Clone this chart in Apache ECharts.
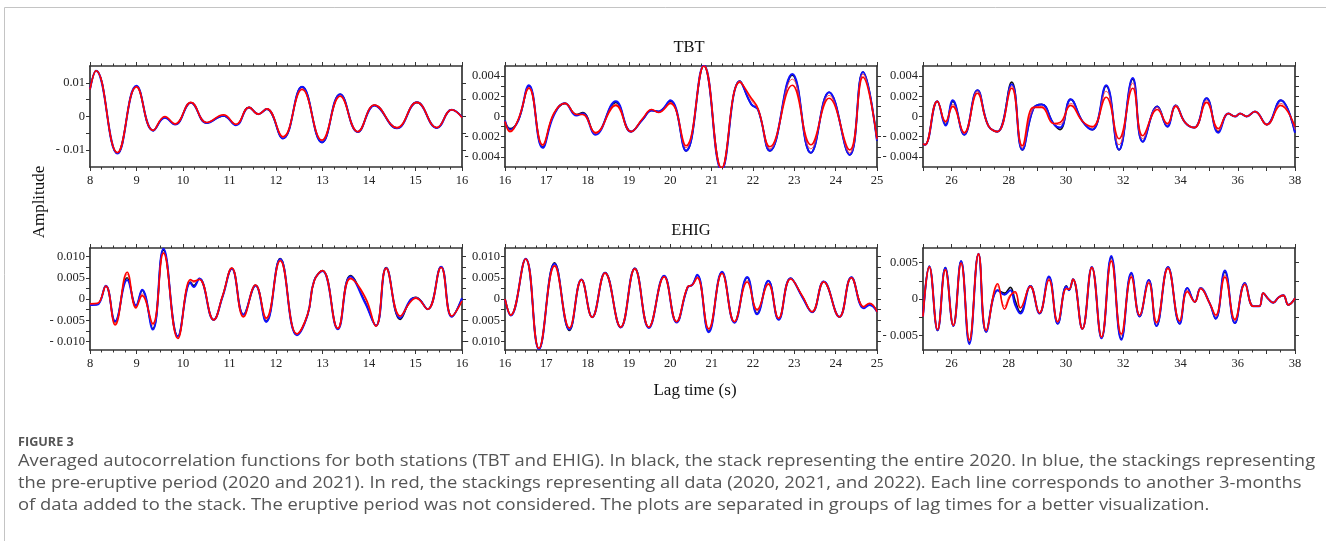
<!DOCTYPE html>
<html><head><meta charset="utf-8">
<script src="https://cdn.jsdelivr.net/npm/echarts@6/dist/echarts.min.js"></script>
<style>html,body{margin:0;padding:0;background:#fff}#c{width:1326px;height:541px}</style>
</head><body><div id="c"></div>
<script>
// ---------- DATA ----------
// TBT, lag 8-16 s
const tbtALag = [8.0, 8.13, 8.59, 9.0, 9.36, 9.61, 9.83, 10.17, 10.51, 10.87, 11.14, 11.42, 11.62, 11.80, 12.15, 12.56, 12.99, 13.38, 13.76, 14.12, 14.60, 15.03, 15.46, 15.78, 16.0];
const tbtABlack = [0.0081, 0.0136, -0.0109, 0.0090, -0.0042, -0.0003, -0.0023, 0.0041, -0.0019, 0.0002, -0.0025, 0.0027, 0.0007, 0.0022, -0.0065, 0.0088, -0.0077, 0.0066, -0.0046, 0.0033, -0.0035, 0.0042, -0.0034, 0.0020, -0.0002];
const tbtABlue = [0.0081, 0.0136, -0.0110, 0.0091, -0.0042, -0.0004, -0.0024, 0.0041, -0.0019, 0.0002, -0.0026, 0.0027, 0.0007, 0.0022, -0.0065, 0.0088, -0.0077, 0.0066, -0.0046, 0.0033, -0.0035, 0.0042, -0.0034, 0.0020, -0.0002];
const tbtARed1 = [0.0081, 0.0136, -0.0108, 0.0089, -0.0041, -0.0001, -0.0022, 0.0042, -0.0018, 0.0004, -0.0024, 0.0027, 0.0007, 0.0023, -0.0062, 0.0083, -0.0072, 0.0062, -0.0045, 0.0034, -0.0034, 0.0042, -0.0033, 0.0020, -0.0003];
const tbtARed2 = [0.0081, 0.0136, -0.0107, 0.0088, -0.0041, 0.0000, -0.0022, 0.0042, -0.0018, 0.0005, -0.0023, 0.0027, 0.0007, 0.0023, -0.0060, 0.0080, -0.0070, 0.0060, -0.0045, 0.0034, -0.0033, 0.0042, -0.0033, 0.0020, -0.0003];

// TBT, lag 16-25 s
const tbtBLag = [16.0, 16.12, 16.32, 16.58, 16.91, 17.18, 17.45, 17.73, 17.88, 18.19, 18.68, 19.05, 19.33, 19.55, 19.71, 20.0, 20.38, 20.81, 21.24, 21.68, 21.96, 22.12, 22.41, 22.95, 23.40, 23.84, 24.34, 24.66, 25.0];
const tbtBBlack = [-0.0005, -0.0012, -0.0004, 0.0030, -0.0030, 0.0002, 0.0013, 0.0002, 0.0004, -0.0017, 0.0014, -0.0015, -0.0003, 0.0006, 0.0005, 0.0015, -0.0034, 0.0050, -0.0052, 0.0035, 0.0012, 0.0007, -0.0034, 0.0041, -0.0036, 0.0024, -0.0038, 0.0044, -0.0024];
const tbtBBlue = [-0.0004, -0.0013, -0.0004, 0.0031, -0.0031, 0.0001, 0.0013, 0.0001, 0.0003, -0.0018, 0.0015, -0.0015, -0.0003, 0.0006, 0.0005, 0.0016, -0.0034, 0.0051, -0.0053, 0.0035, 0.0012, 0.0007, -0.0034, 0.0042, -0.0036, 0.0024, -0.0038, 0.0044, -0.0024];
const tbtBRed1 = [-0.0005, -0.0014, -0.0003, 0.0029, -0.0029, 0.0002, 0.0013, 0.0002, 0.0002, -0.0017, 0.0012, -0.0015, -0.0002, 0.0007, 0.0004, 0.0014, -0.0031, 0.0051, -0.0052, 0.0035, 0.0016, 0.0007, -0.0032, 0.0037, -0.0032, 0.0021, -0.0036, 0.0042, -0.0023];
const tbtBRed2 = [-0.0005, -0.0015, -0.0003, 0.0028, -0.0028, 0.0003, 0.0013, 0.0002, 0.0002, -0.0016, 0.0011, -0.0015, -0.0002, 0.0007, 0.0004, 0.0013, -0.0029, 0.0050, -0.0051, 0.0034, 0.0018, 0.0008, -0.0030, 0.0031, -0.0028, 0.0018, -0.0033, 0.0039, -0.0022];

// TBT, lag 25-38 s
const tbtCLag = [25.0, 25.07, 25.50, 25.79, 26.04, 26.44, 26.90, 27.28, 27.60, 28.10, 28.47, 28.86, 29.15, 29.56, 29.79, 30.16, 30.58, 30.92, 31.40, 31.85, 32.33, 32.68, 33.19, 33.54, 33.83, 34.16, 34.48, 34.91, 35.32, 35.67, 35.91, 36.08, 36.31, 36.60, 37.01, 37.50, 38.0];
const tbtCBlack = [-0.0027, -0.0028, 0.0015, -0.0008, 0.0015, -0.0018, 0.0026, -0.0009, -0.0015, 0.0034, -0.0033, 0.0008, 0.0012, -0.0007, -0.0013, 0.0017, -0.0005, -0.0013, 0.0030, -0.0033, 0.0037, -0.0025, 0.0010, -0.0010, 0.0011, -0.0006, -0.0011, 0.0018, -0.0015, 0.0003, 0.0000, 0.0003, 0.0000, 0.0005, -0.0008, 0.0016, -0.0016];
const tbtCBlue = [-0.0027, -0.0028, 0.0015, -0.0009, 0.0016, -0.0018, 0.0026, -0.0009, -0.0015, 0.0032, -0.0033, 0.0008, 0.0012, -0.0007, -0.0011, 0.0017, -0.0005, -0.0013, 0.0031, -0.0033, 0.0038, -0.0025, 0.0010, -0.0010, 0.0011, -0.0006, -0.0011, 0.0018, -0.0016, 0.0003, 0.0000, 0.0003, 0.0000, 0.0005, -0.0008, 0.0016, -0.0016];
const tbtCRed1 = [-0.0027, -0.0028, 0.0015, -0.0006, 0.0012, -0.0017, 0.0025, -0.0009, -0.0015, 0.0030, -0.0031, 0.0008, 0.0010, -0.0007, -0.0008, 0.0013, -0.0005, -0.0011, 0.0025, -0.0028, 0.0033, -0.0022, 0.0009, -0.0008, 0.0011, -0.0006, -0.0011, 0.0016, -0.0014, 0.0003, 0.0000, 0.0003, 0.0000, 0.0005, -0.0008, 0.0013, -0.0013];
const tbtCRed2 = [-0.0027, -0.0028, 0.0015, -0.0005, 0.0010, -0.0016, 0.0023, -0.0009, -0.0015, 0.0028, -0.0029, 0.0009, 0.0009, -0.0007, -0.0006, 0.0011, -0.0005, -0.0010, 0.0019, -0.0022, 0.0028, -0.0019, 0.0007, -0.0007, 0.0010, -0.0006, -0.0011, 0.0014, -0.0012, 0.0003, 0.0000, 0.0003, 0.0000, 0.0005, -0.0008, 0.0011, -0.0010];

// EHIG, lag 8-16 s
const ehigALag = [8.0, 8.16, 8.34, 8.54, 8.80, 8.99, 9.12, 9.35, 9.58, 9.89, 10.16, 10.23, 10.35, 10.66, 10.85, 11.05, 11.30, 11.56, 11.79, 12.09, 12.45, 12.68, 12.82, 13.0, 13.33, 13.60, 13.92, 14.15, 14.37, 14.67, 14.89, 15.01, 15.26, 15.55, 15.78, 16.0];
const ehigABlack = [-0.0013, -0.0012, 0.0031, -0.0054, 0.0050, -0.0017, 0.0020, -0.0070, 0.0115, -0.0088, 0.0040, 0.0032, 0.0048, -0.0049, 0.0006, 0.0072, -0.0037, 0.0032, -0.0052, 0.0095, -0.0084, -0.0037, 0.0043, 0.0067, -0.0070, 0.0055, -0.0008, -0.0063, 0.0074, -0.0048, -0.0003, 0.0004, -0.0024, 0.0076, -0.0041, 0.0001];
const ehigABlue = [-0.0014, -0.0013, 0.0031, -0.0052, 0.0045, -0.0015, 0.0022, -0.0072, 0.0118, -0.0088, 0.0038, 0.0028, 0.0048, -0.0049, 0.0005, 0.0071, -0.0037, 0.0032, -0.0054, 0.0094, -0.0085, -0.0037, 0.0043, 0.0066, -0.0071, 0.0053, -0.0010, -0.0063, 0.0073, -0.0045, -0.0002, 0.0003, -0.0024, 0.0076, -0.0042, 0.0002];
const ehigARed1 = [-0.0012, -0.0011, 0.0031, -0.0058, 0.0058, -0.0019, 0.0012, -0.0062, 0.0110, -0.0091, 0.0044, 0.0039, 0.0047, -0.0049, 0.0006, 0.0073, -0.0040, 0.0033, -0.0048, 0.0092, -0.0083, -0.0036, 0.0043, 0.0067, -0.0070, 0.0050, 0.0000, -0.0063, 0.0073, -0.0042, -0.0006, 0.0003, -0.0024, 0.0075, -0.0040, -0.0004];
const ehigARed2 = [-0.0011, -0.0010, 0.0030, -0.0061, 0.0063, -0.0021, 0.0008, -0.0058, 0.0108, -0.0093, 0.0046, 0.0042, 0.0046, -0.0049, 0.0007, 0.0073, -0.0042, 0.0033, -0.0045, 0.0090, -0.0082, -0.0036, 0.0042, 0.0067, -0.0069, 0.0048, 0.0004, -0.0064, 0.0072, -0.0040, -0.0007, 0.0002, -0.0024, 0.0074, -0.0040, -0.0005];

// EHIG, lag 16-25 s
const ehigBLag = [16.0, 16.14, 16.50, 16.82, 17.20, 17.56, 17.85, 18.11, 18.42, 18.80, 19.14, 19.48, 19.85, 20.15, 20.42, 20.53, 20.65, 20.93, 21.25, 21.55, 21.86, 22.10, 22.37, 22.62, 22.91, 23.19, 23.43, 23.71, 24.09, 24.38, 24.68, 24.82, 25.0];
const ehigBBlack = [0.0000, -0.0038, 0.0094, -0.0118, 0.0085, -0.0074, 0.0046, -0.0043, 0.0062, -0.0067, 0.0072, -0.0067, 0.0054, -0.0054, 0.0028, 0.0033, 0.0056, -0.0076, 0.0063, -0.0055, 0.0050, -0.0034, 0.0043, -0.0048, 0.0049, 0.0006, -0.0031, 0.0041, -0.0042, 0.0051, -0.0020, -0.0012, -0.0030];
const ehigBBlue = [0.0000, -0.0039, 0.0095, -0.0118, 0.0083, -0.0072, 0.0046, -0.0043, 0.0062, -0.0067, 0.0072, -0.0068, 0.0055, -0.0055, 0.0028, 0.0033, 0.0057, -0.0078, 0.0064, -0.0056, 0.0052, -0.0036, 0.0043, -0.0049, 0.0049, 0.0005, -0.0031, 0.0041, -0.0042, 0.0051, -0.0022, -0.0014, -0.0030];
const ehigBRed1 = [0.0000, -0.0038, 0.0094, -0.0117, 0.0080, -0.0069, 0.0046, -0.0043, 0.0061, -0.0066, 0.0071, -0.0066, 0.0053, -0.0054, 0.0028, 0.0033, 0.0052, -0.0072, 0.0061, -0.0054, 0.0043, -0.0028, 0.0037, -0.0046, 0.0048, 0.0007, -0.0030, 0.0041, -0.0042, 0.0050, -0.0019, -0.0011, -0.0030];
const ehigBRed2 = [0.0000, -0.0038, 0.0094, -0.0116, 0.0078, -0.0068, 0.0045, -0.0043, 0.0061, -0.0066, 0.0071, -0.0066, 0.0052, -0.0053, 0.0029, 0.0033, 0.0050, -0.0070, 0.0060, -0.0053, 0.0040, -0.0025, 0.0035, -0.0045, 0.0047, 0.0008, -0.0030, 0.0040, -0.0042, 0.0050, -0.0018, -0.0010, -0.0030];

// EHIG, lag 25-38 s
const ehigCLag = [25.0, 25.22, 25.51, 25.78, 26.06, 26.33, 26.62, 26.94, 27.21, 27.61, 27.85, 28.05, 28.22, 28.40, 28.75, 29.07, 29.40, 29.71, 30.01, 30.10, 30.24, 30.57, 30.90, 31.24, 31.58, 31.93, 32.28, 32.57, 32.89, 33.16, 33.56, 33.97, 34.24, 34.50, 34.70, 35.02, 35.23, 35.55, 35.90, 36.25, 36.54, 36.75, 36.89, 37.07, 37.24, 37.42, 37.59, 37.77, 38.0];
const ehigCBlack = [-0.0024, 0.0045, -0.0043, 0.0043, -0.0037, 0.0052, -0.0060, 0.0062, -0.0045, 0.0012, 0.0008, 0.0016, -0.0002, -0.0018, 0.0018, -0.0020, 0.0030, -0.0034, 0.0018, 0.0012, 0.0027, -0.0041, 0.0044, -0.0054, 0.0057, -0.0055, 0.0035, -0.0024, 0.0026, -0.0037, 0.0044, -0.0034, 0.0015, -0.0004, 0.0015, -0.0006, -0.0027, 0.0037, -0.0033, 0.0022, -0.0010, -0.0010, 0.0008, 0.0000, -0.0005, 0.0002, 0.0005, -0.0008, 0.0001];
const ehigCBlue = [-0.0024, 0.0045, -0.0043, 0.0043, -0.0037, 0.0052, -0.0062, 0.0062, -0.0045, 0.0012, 0.0006, 0.0012, -0.0008, -0.0020, 0.0018, -0.0020, 0.0031, -0.0034, 0.0017, 0.0012, 0.0027, -0.0041, 0.0044, -0.0054, 0.0059, -0.0056, 0.0036, -0.0024, 0.0026, -0.0037, 0.0044, -0.0034, 0.0015, -0.0004, 0.0015, -0.0006, -0.0027, 0.0039, -0.0033, 0.0022, -0.0010, -0.0010, 0.0008, 0.0000, -0.0005, 0.0002, 0.0005, -0.0008, 0.0001];
const ehigCRed1 = [-0.0024, 0.0045, -0.0042, 0.0041, -0.0037, 0.0050, -0.0058, 0.0062, -0.0044, 0.0018, -0.0010, 0.0006, 0.0008, -0.0013, 0.0018, -0.0019, 0.0028, -0.0032, 0.0015, 0.0013, 0.0027, -0.0041, 0.0044, -0.0053, 0.0054, -0.0050, 0.0032, -0.0023, 0.0024, -0.0034, 0.0043, -0.0031, 0.0012, -0.0004, 0.0015, -0.0006, -0.0024, 0.0033, -0.0030, 0.0021, -0.0010, -0.0010, 0.0008, 0.0000, -0.0005, 0.0002, 0.0005, -0.0008, 0.0001];
const ehigCRed2 = [-0.0024, 0.0044, -0.0042, 0.0040, -0.0036, 0.0049, -0.0056, 0.0062, -0.0043, 0.0021, -0.0014, 0.0004, 0.0010, -0.0012, 0.0017, -0.0019, 0.0026, -0.0031, 0.0014, 0.0013, 0.0027, -0.0041, 0.0043, -0.0052, 0.0052, -0.0048, 0.0030, -0.0022, 0.0022, -0.0032, 0.0042, -0.0030, 0.0010, -0.0004, 0.0014, -0.0006, -0.0022, 0.0030, -0.0028, 0.0020, -0.0010, -0.0010, 0.0008, 0.0000, -0.0005, 0.0002, 0.0005, -0.0008, 0.0001];

// Tick labels / tick positions
const yLabelsA = [-0.01, 0, 0.01];
const yTicksA = [-0.01, -0.005, 0, 0.005, 0.01];
const yLabelsB = [-0.004, -0.002, 0, 0.002, 0.004];
const yTicksB = [-0.004, -0.003, -0.002, -0.001, 0, 0.001, 0.002, 0.003, 0.004];
const yLabelsE = [-0.01, -0.005, 0, 0.005, 0.01];
const yTicksE = [-0.01, -0.0075, -0.005, -0.0025, 0, 0.0025, 0.005, 0.0075, 0.01];
const yLabelsF = [-0.005, 0, 0.005];
const yTicksF = [-0.005, -0.0025, 0, 0.0025, 0.005];
const xLabelsA = [8, 9, 10, 11, 12, 13, 14, 15, 16];
const xLabelsB = [16, 17, 18, 19, 20, 21, 22, 23, 24, 25];
const xLabelsC = [26, 28, 30, 32, 34, 36, 38];

const titleTop = 'TBT', titleBottom = 'EHIG';
const yName = 'Amplitude', xName = 'Lag time (s)';
const capHead = 'FIGURE 3';
const capLines = [
  'Averaged autocorrelation functions for both stations (TBT and EHIG). In black, the stack representing the entire 2020. In blue, the stackings representing',
  'the pre-eruptive period (2020 and 2021). In red, the stackings representing all data (2020, 2021, and 2022). Each line corresponds to another 3-months',
  'of data added to the stack. The eruptive period was not considered. The plots are separated in groups of lag times for a better visualization.'
];

// ---------- LAYOUT ----------
const panels = [
  {lag: tbtALag, k: tbtABlack, b: tbtABlue, r1: tbtARed1, r2: tbtARed2, xmin: 8, xmax: 16, xMinor: 4, xLabels: xLabelsA, ymax: 0.015, yLabels: yLabelsA, yTicks: yTicksA, dec: 2, left: 90, top: 66, width: 372, height: 101},
  {lag: tbtBLag, k: tbtBBlack, b: tbtBBlue, r1: tbtBRed1, r2: tbtBRed2, xmin: 16, xmax: 25, xMinor: 4, xLabels: xLabelsB, ymax: 0.005, yLabels: yLabelsB, yTicks: yTicksB, dec: 3, left: 505, top: 66, width: 372, height: 101},
  {lag: tbtCLag, k: tbtCBlack, b: tbtCBlue, r1: tbtCRed1, r2: tbtCRed2, xmin: 25, xmax: 38, xMinor: 2, xLabels: xLabelsC, ymax: 0.005, yLabels: yLabelsB, yTicks: yTicksB, dec: 3, left: 923, top: 66, width: 372, height: 101},
  {lag: ehigALag, k: ehigABlack, b: ehigABlue, r1: ehigARed1, r2: ehigARed2, xmin: 8, xmax: 16, xMinor: 4, xLabels: xLabelsA, ymax: 0.012, yLabels: yLabelsE, yTicks: yTicksE, dec: 3, left: 90, top: 248, width: 372, height: 102},
  {lag: ehigBLag, k: ehigBBlack, b: ehigBBlue, r1: ehigBRed1, r2: ehigBRed2, xmin: 16, xmax: 25, xMinor: 4, xLabels: xLabelsB, ymax: 0.012, yLabels: yLabelsE, yTicks: yTicksE, dec: 3, left: 505, top: 248, width: 372, height: 102},
  {lag: ehigCLag, k: ehigCBlack, b: ehigCBlue, r1: ehigCRed1, r2: ehigCRed2, xmin: 25, xmax: 38, xMinor: 2, xLabels: xLabelsC, ymax: 0.007, yLabels: yLabelsF, yTicks: yTicksF, dec: 3, left: 923, top: 248, width: 372, height: 102}
];

const SERIF = 'Liberation Serif, Times New Roman, serif';
const FRAME = '#333';
const fmtY = dec => v => {
  if (Math.abs(v) < 1e-12) return '0';
  return (v < 0 ? '- ' : '') + Math.abs(v).toFixed(dec);
};
const pairs = (lag, vals) => lag.map((x, j) => [x, vals[j]]);

const grid = [], xAxis = [], yAxis = [], series = [];
panels.forEach((p, i) => {
  grid.push({left: p.left, top: p.top, width: p.width, height: p.height, show: false, containLabel: false});
  const axLine = {show: true, onZero: false, lineStyle: {color: FRAME, width: 1.7}};
  const xBase = {
    type: 'value', gridIndex: i, min: p.xmin, max: p.xmax, interval: 1,
    axisLine: axLine,
    axisTick: {show: true, inside: false, length: 4, lineStyle: {color: FRAME, width: 1}},
    minorTick: {show: true, splitNumber: p.xMinor, length: 2.5, lineStyle: {color: FRAME, width: 1}},
    splitLine: {show: false}, minorSplitLine: {show: false}
  };
  xAxis.push(Object.assign({}, xBase, {
    position: 'bottom',
    axisLabel: {show: true, margin: 7, fontFamily: SERIF, fontSize: 12.5, color: '#222',
      showMinLabel: true, showMaxLabel: true,
      formatter: v => p.xLabels.some(l => Math.abs(l - v) < 1e-9) ? String(Math.round(v)) : ''}
  }));
  xAxis.push(Object.assign({}, xBase, {position: 'top', axisLabel: {show: false}}));
  const yBase = {
    type: 'value', gridIndex: i, min: -p.ymax, max: p.ymax,
    axisLine: axLine,
    axisTick: {show: true, inside: false, length: 4, customValues: p.yTicks, lineStyle: {color: FRAME, width: 1}},
    splitLine: {show: false}
  };
  yAxis.push(Object.assign({}, yBase, {
    position: 'left',
    axisLabel: {show: true, margin: 5, customValues: p.yLabels, fontFamily: SERIF, fontSize: 12.5, color: '#222', formatter: fmtY(p.dec)}
  }));
  yAxis.push(Object.assign({}, yBase, {position: 'right', axisLabel: {show: false}}));

  const common = {type: 'line', xAxisIndex: 2 * i, yAxisIndex: 2 * i, smooth: 0.45, showSymbol: false, symbol: 'none', silent: true, clip: true};
  series.push(Object.assign({}, common, {data: pairs(p.lag, p.k), lineStyle: {color: '#111', width: 1.6}, z: 2}));
  series.push(Object.assign({}, common, {data: pairs(p.lag, p.b), lineStyle: {color: '#1010ff', width: 2.0}, z: 3}));
  series.push(Object.assign({}, common, {data: pairs(p.lag, p.r1), lineStyle: {color: '#ff4040', width: 0.9}, z: 4}));
  series.push(Object.assign({}, common, {data: pairs(p.lag, p.r2), lineStyle: {color: '#ff0000', width: 1.6}, z: 5}));
});

const CAPFONT = 'Open Sans, Lato, sans-serif';
const CAPSCALE = 1.186;
const graphic = [
  {type: 'line', silent: true, shape: {x1: 4.5, y1: 7.5, x2: 1326, y2: 7.5}, style: {stroke: '#c4c4c4', lineWidth: 1}},
  {type: 'line', silent: true, shape: {x1: 4.5, y1: 7.5, x2: 4.5, y2: 541}, style: {stroke: '#c4c4c4', lineWidth: 1}},
  {type: 'text', silent: true, x: 689, y: 48, style: {text: titleTop, font: '16.5px ' + SERIF, fill: '#111', textAlign: 'center', textVerticalAlign: 'middle'}},
  {type: 'text', silent: true, x: 691, y: 231, style: {text: titleBottom, font: '16.5px ' + SERIF, fill: '#111', textAlign: 'center', textVerticalAlign: 'middle'}},
  {type: 'text', silent: true, x: 40, y: 202, rotation: Math.PI / 2, style: {text: yName, font: '17px ' + SERIF, fill: '#111', textAlign: 'center', textVerticalAlign: 'middle'}},
  {type: 'text', silent: true, x: 695, y: 391, style: {text: xName, font: '17px ' + SERIF, fill: '#111', textAlign: 'center', textVerticalAlign: 'middle'}},
  {type: 'text', silent: true, x: 18, y: 443, scaleX: 1.1, style: {text: capHead, font: 'bold 11.5px ' + CAPFONT, fill: '#555', textAlign: 'left', textVerticalAlign: 'middle'}},
  {type: 'text', silent: true, x: 18, y: 462, scaleX: CAPSCALE, style: {text: capLines[0], font: '15.5px ' + CAPFONT, fill: '#555', textAlign: 'left', textVerticalAlign: 'middle'}},
  {type: 'text', silent: true, x: 18, y: 484, scaleX: CAPSCALE, style: {text: capLines[1], font: '15.5px ' + CAPFONT, fill: '#555', textAlign: 'left', textVerticalAlign: 'middle'}},
  {type: 'text', silent: true, x: 18, y: 506, scaleX: CAPSCALE, style: {text: capLines[2], font: '15.5px ' + CAPFONT, fill: '#555', textAlign: 'left', textVerticalAlign: 'middle'}}
];

const chart = echarts.init(document.getElementById('c'), null, {renderer: 'canvas'});
chart.setOption({
  animation: false,
  backgroundColor: '#fff',
  grid, xAxis, yAxis, series, graphic
});
</script></body></html>
